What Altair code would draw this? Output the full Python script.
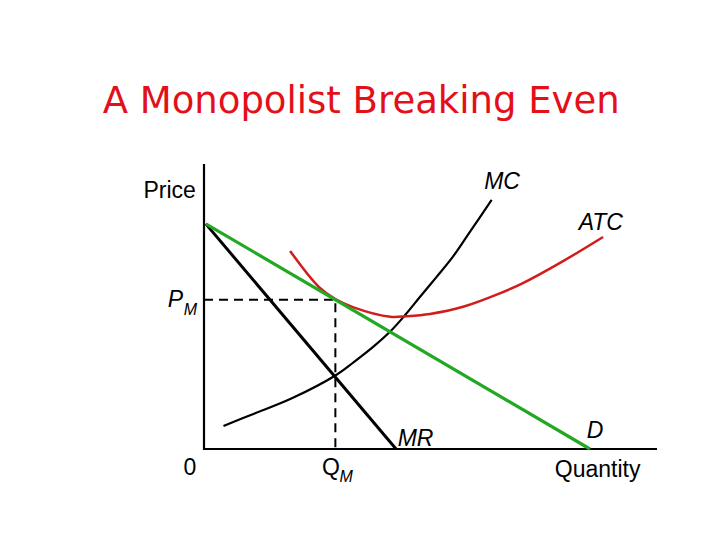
import altair as alt
import pandas as pd

# Curve data (Quantity, Price) in chart units
d_q = [0.4, 85.2]
d_p = [79.0, 0.0]
mr_q = [0.4, 42.4]
mr_p = [79.0, 0.0]
mc_q = [4.3, 10.9, 19.4, 29.0, 33.0, 37.4, 41.1, 44.4, 47.7, 51.4, 55.0, 58.7, 63.5]
mc_p = [8.1, 12.3, 17.8, 25.8, 30.4, 35.9, 41.2, 47.0, 53.4, 60.5, 67.6, 76.2, 87.4]
atc_q = [19.0, 25.4, 29.0, 33.0, 41.1, 44.7, 49.9, 57.2, 65.3, 70.4, 78.6, 88.1]
atc_p = [69.5, 56.8, 52.6, 49.7, 46.4, 46.6, 47.4, 49.9, 54.6, 58.2, 65.3, 74.4]
qm = 29.0
pm = 52.4

X = alt.Scale(domain=[0, 100], nice=False, zero=False)
Y = alt.Scale(domain=[0, 100], nice=False, zero=False)


def line_layer(qs, ps, color, width, interp="linear", dash=None):
    df = pd.DataFrame({"q": qs, "p": ps, "o": list(range(len(qs)))})
    kw = dict(color=color, strokeWidth=width, interpolate=interp, clip=False)
    if dash:
        kw["strokeDash"] = dash
    return alt.Chart(df).mark_line(**kw).encode(
        x=alt.X("q:Q", scale=X, axis=None),
        y=alt.Y("p:Q", scale=Y, axis=None),
        order="o:O",
    )


axes = alt.Chart(pd.DataFrame({"q": [0, 0, 100], "p": [100, 0, 0], "o": [0, 1, 2]})).mark_line(
    color="black", strokeWidth=2.2
).encode(x=alt.X("q:Q", scale=X, axis=None), y=alt.Y("p:Q", scale=Y, axis=None), order="o:O")

dash = line_layer([0, qm, qm], [pm, pm, 0], "black", 2, dash=[9, 6])
mc = line_layer(mc_q, mc_p, "black", 2.2, interp="catmull-rom")
mr = line_layer(mr_q, mr_p, "black", 3)
atc = line_layer(atc_q, atc_p, "#d21c1c", 2.5, interp="catmull-rom")
dem = line_layer(d_q, d_p, "#22a822", 3.2)

labels = pd.DataFrame([
    {"t": "Price", "q": -1.8, "p": 88.1, "s": 23, "st": "normal", "a": "right"},
    {"t": "MC", "q": 65.8, "p": 91.2, "s": 23, "st": "italic", "a": "center"},
    {"t": "ATC", "q": 87.6, "p": 76.8, "s": 23, "st": "italic", "a": "center"},
    {"t": "P", "q": -6.3, "p": 49.8, "s": 23, "st": "italic", "a": "center"},
    {"t": "M", "q": -3.0, "p": 47.0, "s": 16, "st": "italic", "a": "center"},
    {"t": "0", "q": -3.1, "p": -9.1, "s": 23, "st": "normal", "a": "center"},
    {"t": "Q", "q": 28.0, "p": -9.1, "s": 23, "st": "normal", "a": "center"},
    {"t": "M", "q": 31.4, "p": -11.6, "s": 16, "st": "italic", "a": "center"},
    {"t": "MR", "q": 46.7, "p": 1.1, "s": 23, "st": "italic", "a": "center"},
    {"t": "D", "q": 86.3, "p": 3.9, "s": 23, "st": "italic", "a": "center"},
    {"t": "Quantity", "q": 86.9, "p": -9.8, "s": 23, "st": "normal", "a": "center"},
])

text_layers = []
for (s, st, a), g in labels.groupby(["s", "st", "a"]):
    text_layers.append(
        alt.Chart(g).mark_text(
            font="Liberation Sans", fontSize=int(s), fontStyle=st, align=a,
            baseline="alphabetic", color="black",
        ).encode(
            x=alt.X("q:Q", scale=X, axis=None),
            y=alt.Y("p:Q", scale=Y, axis=None),
            text="t:N",
        )
    )

title = alt.Chart(pd.DataFrame({"t": ["A Monopolist Breaking Even"], "q": [34.7], "p": [117.9]})).mark_text(
    font="DejaVu Sans", fontSize=37, color="#e3101a", align="center", baseline="alphabetic"
).encode(x=alt.X("q:Q", scale=X, axis=None), y=alt.Y("p:Q", scale=Y, axis=None), text="t:N")

chart = alt.layer(axes, dash, mr, mc, atc, dem, title, *text_layers).properties(
    width=453, height=285,
    padding={"left": 196, "top": 156, "right": 55, "bottom": 83},
    autosize=alt.AutoSizeParams(type="none"),
    background="white",
).configure_view(stroke=None)

chart.save("out.html", embed_options={"renderer": "svg", "actions": False})
